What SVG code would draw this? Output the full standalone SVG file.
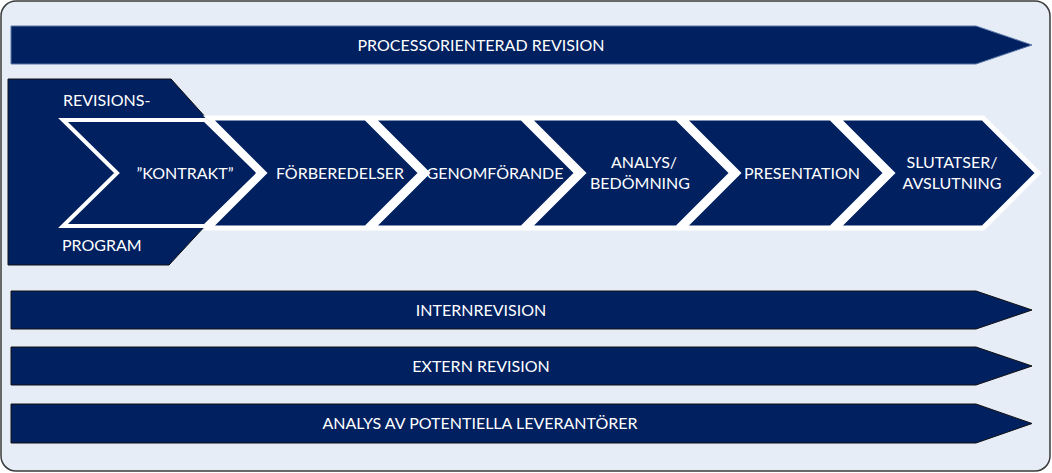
<svg xmlns="http://www.w3.org/2000/svg" width="1052" height="473" viewBox="0 0 1052 473">
<style>
.bg{fill:#E7EDF7;stroke:#3a3a3a;stroke-width:1.5}
.bar{fill:#002060;stroke:#111;stroke-width:1}
.bartop{fill:#002060;stroke:#5a78a8;stroke-width:1}
.chev{fill:#002060;stroke:#ffffff;stroke-width:5;stroke-linejoin:miter}
.chev1{fill:#002060;stroke:#ffffff;stroke-width:4;stroke-linejoin:miter}
.blk{fill:#002060;stroke:#111;stroke-width:1}
text{font-family:Lato,"Liberation Sans",sans-serif;font-size:16px;fill:#ffffff;text-anchor:middle}
</style>
<rect class="bg" x="1" y="1" width="1049" height="470" rx="15" ry="15"/>
<g id="processorienterad">
<polygon class="bartop" points="11,26 976,26 1032,45 976,64 11,64"/>
<text x="481" y="50.5">PROCESSORIENTERAD REVISION</text>
</g>
<g id="revisionsprogram">
<polygon class="blk" points="8,79 171,79 255,172 169,265 8,265"/>
<text x="63" y="106" style="text-anchor:start">REVISIONS-</text>
<text x="62" y="251" style="text-anchor:start">PROGRAM</text>
</g>
<g id="connectors"></g>
<g id="slutatser">
<polygon class="chev" points="837,118 983,118 1038,173 983,228 837,228 892,173"/>
<text x="952" y="167.5">SLUTATSER/</text>
<text x="952" y="189">AVSLUTNING</text>
</g>
<g id="presentation">
<polygon class="chev" points="683,118 831,118 886,173 831,228 683,228 738,173"/>
<text x="802" y="178.5">PRESENTATION</text>
</g>
<g id="analys">
<polygon class="chev" points="528,118 677,118 732,173 677,228 528,228 583,173"/>
<text x="644" y="167.5">ANALYS/</text>
<text x="640" y="189">BEDÖMNING</text>
</g>
<g id="genomforande">
<polygon class="chev" points="372,118 522,118 577,173 522,228 372,228 427,173"/>
<text x="495" y="178.5">GENOMFÖRANDE</text>
</g>
<g id="forberedelser">
<polygon class="chev" points="209,118 366,118 421,173 366,228 209,228 264,173"/>
<text x="340" y="178.5">FÖRBEREDELSER</text>
</g>
<g id="kontrakt">
<polygon class="chev1" points="63,120 205,120 259,173 205,226 63,226 117,173"/>
<text x="185" y="178.5">”KONTRAKT”</text>
</g>
<g id="internrevision">
<polygon class="bar" points="11,291 976,291 1032,310 976,329 11,329"/>
<text x="481" y="315.5">INTERNREVISION</text>
</g>
<g id="externrevision">
<polygon class="bar" points="11,347 976,347 1032,366 976,385 11,385"/>
<text x="481" y="371.5">EXTERN REVISION</text>
</g>
<g id="leverantorer">
<polygon class="bar" points="11,404 976,404 1032,423.5 976,443 11,443"/>
<text x="480" y="428.5">ANALYS AV POTENTIELLA LEVERANTÖRER</text>
</g>
</svg>
